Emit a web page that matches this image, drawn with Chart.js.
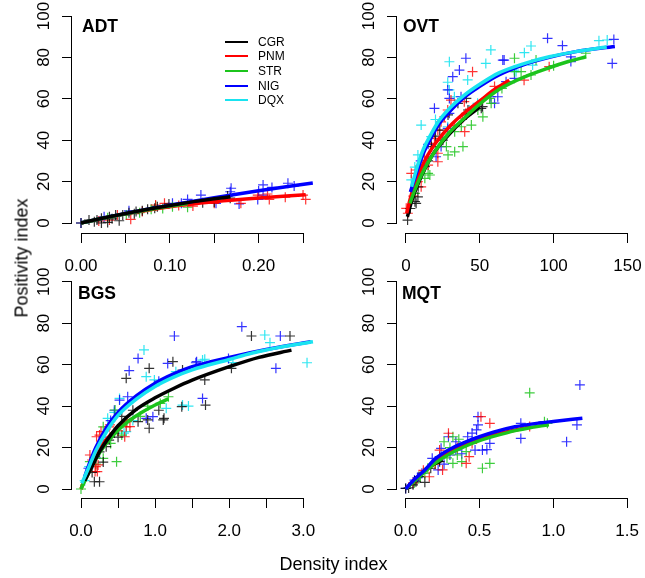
<!DOCTYPE html>
<html>
<head>
<meta charset="utf-8">
<script src="https://cdn.jsdelivr.net/npm/chart.js@4.4.1/dist/chart.umd.min.js"></script>
<style>
  body { margin: 0; background: #fff; width: 645px; height: 578px; position: relative; overflow: hidden;
         font-family: "Liberation Sans", Arial, Helvetica, sans-serif; color: #000; }
  canvas { position: absolute; left: 0; top: 0; pointer-events: none; }
  .txt { position: absolute; white-space: nowrap; line-height: 1; }
  .ttl { font-weight: bold; font-size: 17.5px; }
  .leg { font-size: 12px; }
  .legline { position: absolute; height: 2px; }
</style>
</head>
<body>
<canvas id="adt" width="645" height="578"></canvas>
<canvas id="ovt" width="645" height="578"></canvas>
<canvas id="bgs" width="645" height="578"></canvas>
<canvas id="mqt" width="645" height="578"></canvas>

<script>
// species / series names
const species = ["CGR", "PNM", "STR", "NIG", "DQX"];
const lineColors = ["#000000", "#ff0000", "#1cc41c", "#0000ff", "#19e3f0"];
const pointColors = ["rgba(0,0,0,0.8)", "rgba(255,0,0,0.8)", "rgba(28,196,28,0.85)", "rgba(0,0,255,0.8)", "rgba(25,227,240,0.9)"];

// tick values + labels
const yTicks = [0, 20, 40, 60, 80, 100];
const yLabels = ["0", "20", "40", "60", "80", "100"];
const adtXTicks = [0, 0.05, 0.10, 0.15, 0.20, 0.25];
const adtXLabels = ["0.00", "", "0.10", "", "0.20", ""];
const ovtXTicks = [0, 50, 100, 150];
const ovtXLabels = ["0", "50", "100", "150"];
const bgsXTicks = [0, 0.5, 1.0, 1.5, 2.0, 2.5, 3.0];
const bgsXLabels = ["0.0", "", "1.0", "", "2.0", "", "3.0"];
const mqtXTicks = [0, 0.5, 1.0, 1.5];
const mqtXLabels = ["0.0", "0.5", "1.0", "1.5"];

// ---- ADT ----
const adtCGR = [[0,0],[0.009,1.4],[0.015,0.6],[0.018,1.5],[0.023,2.3],[0.023,0],[0.030,0.3],[0.032,3],[0.035,2],
  [0.039,3.9],[0.043,1.1],[0.047,3.9],[0.054,5],[0.060,4.5],[0.062,5.5],[0.069,5.9],[0.075,6.6],[0.083,7.1],
  [0.086,7.9],[0.099,9.2],[0.137,9.8],[0.150,10],[0.165,13],[0.168,12]];
const adtPNM = [[0.25,13.5],[0.253,11.4],[0.21,14],[0.199,13.5],[0.212,11.4],[0.18,9.5],[0.15,9.5],[0.126,8.2],
  [0.094,9.5],[0.056,1.8],[0.032,1.4],[0.041,3.9],[0.084,8.7],[0.069,5.5],[0.02,1],[0.11,8.5],[0.23,12.5]];
const adtSTR = [[0.084,8.2],[0.12,7.6],[0.079,6.6],[0.103,7.9],[0.066,5],[0.051,3.9],[0.03,2.5],[0.092,7]];
const adtNIG = [[0.169,16.8],[0.168,15.1],[0.135,13.5],[0.12,11.4],[0.113,9.5],[0.103,9.5],[0.054,5.9],[0.205,18.4],
  [0.215,17.2],[0.233,19.2],[0.24,17.9],[0.199,11.4],[0.205,13.5],[0.178,9.2],[0.152,9.5],[0.026,3],[0,0],[0.2,15.5]];
const adtDQX = [];
const adtCGRfit = [[0,0],[0.025,2.4],[0.05,4.6],[0.075,6.6],[0.10,8.5],[0.125,10.2],[0.15,11.7],[0.168,12.7]];
const adtPNMfit = [[0,0],[0.05,4.4],[0.10,7.9],[0.15,10.3],[0.20,12.1],[0.253,13.6]];
const adtSTRfit = [[0,0],[0.04,3.6],[0.08,6.8],[0.12,9.4]];
const adtNIGfit = [[0,0],[0.05,4.6],[0.10,8.6],[0.15,12.2],[0.20,15.6],[0.261,19.3]];
const adtDQXfit = [];

// ---- OVT ----
const ovtCGR = [[1.1,1.4],[6.1,10.3],[8.3,17.5],[12.8,27.2],[17.3,36.9],[22.9,44.9],[28.5,52.2],[35.2,57.8],[40.9,60.2],
  [42,54.6],[40.9,52.2],[51,55.4],[51.9,56.2],[6.9,9.5],[8.1,12.6],[3,7],[15,30],[25,40],[20,42]];
const ovtPNM = [[45.1,73.1],[39.5,58.6],[38.4,50.6],[40.6,53],[28.3,54.6],[26.1,51.4],[23.8,48.9],[21.6,44.9],[19.3,40.9],
  [21.6,33.7],[21.6,29.6],[12.6,32],[10.3,17.5],[6.9,25.6],[3.6,24],[1.3,4.7],[0.2,7.1],[30.5,59.4],[17.1,38.5],
  [39.8,44.1],[97,75.5],[80,69],[60,66],[15,28],[8,20],[5,13],[33,47]];
const ovtSTR = [[6.1,14.3],[16.2,23.2],[28.5,32.9],[33,34.4],[38.6,36.9],[44.3,47.3],[52.1,51.3],[57.7,57.8],[56.6,60.2],
  [48.7,54.6],[37.5,46.5],[33,44.1],[24.1,40.1],[27.4,36.9],[73.5,79.6],[73.5,73.1],[84.7,71.5],[121.8,82],[88.1,78.7],
  [12.8,21.6],[15,24],[78,73.1],[65,65],[100,76]];
const ovtNIG = [[40.6,79.6],[36.2,73.9],[31.7,70.7],[28.3,64.3],[29.4,60.2],[19.3,55.4],[29.4,53],[37.3,61],[57.5,61],
  [66.5,78.7],[23.8,36.9],[28.3,45.7],[20.4,32],[95.9,89.2],[106,85.7],[140.8,88.7],[139.7,77.1],[111.7,78],[111.7,80.3],
  [67.8,68.3],[73.5,69.9],[62.2,61],[60,57.9],[65.6,78.7],[15,38],[10,30]];
const ovtDQX = [[57.5,83.6],[29.4,77.9],[54.1,77.1],[41.8,69.1],[28.3,68],[29.4,64.3],[10.3,47.3],[28.3,46.5],[42.9,54.6],
  [48.5,57.8],[8.1,32.9],[3.6,20.8],[17.1,41.7],[32.8,61],[84.7,85.5],[80.2,82.3],[130.7,88.1],[74.6,73.1],[85.8,76.3],
  [136.3,88.4],[73.4,73.9],[20,50],[6,27]];
const ovtCGRfit = [[1,3],[4,11],[8,18.5],[12,25],[16,30.5],[20,35],[30,43.5],[40,50.5],[50,56]];
const ovtPNMfit = [[0.5,4.7],[3,12],[6,19],[10,26],[15,33],[20,38.5],[30,47],[40,53.5],[50,59],[60,64.5],[70,69]];
const ovtSTRfit = [[2.7,9.5],[6,16],[12.8,26.5],[20,35],[28.5,43],[40,51],[50,57.5],[63,64.5],[80,70.5],[97,75],[110,78],[122,80.3]];
const ovtNIGfit = [[3,15],[8,26],[12,34],[17.3,41.5],[22,47.5],[28.5,53],[40,61],[50,66],[63,71.5],[80,76.5],[97,80],[115,82.8],[141.5,85.3]];
const ovtDQXfit = [[3.8,17.5],[8,28],[12,36],[17.3,43.3],[22,49],[28.5,54.6],[40,62],[50,67],[63,72.5],[80,77],[97,80.3],[115,82.8],[136,85]];

// ---- BGS ----
const bgsCGR = [[0.92,58.2],[0.61,53.4],[1.24,61.4],[1.37,57.4],[1.12,34.1],[0.92,29.3],[0.90,33.3],[0.77,32.5],[0.25,3.5],
  [0.18,3.5],[0.34,20.4],[0.38,23.6],[0.25,17.9],[2.30,73.8],[2.82,73.8],[2.03,58.2],[1.67,52.6],[1.68,40.5],[0.5,25],
  [0.55,35],[0.7,38],[1.05,38],[0.3,13],[0.45,27],[0.15,8],[1.36,39.7],[1.11,33.3]];
const bgsPNM = [[0.22,8.4],[0.2,10.8],[0.25,26],[0.27,27.7],[0.38,30],[0.61,30],[0.21,25.2],[0.19,8.4],[0.23,11.6],
  [0.39,30.9],[0.66,30.1],[0.59,25.2],[0.12,16.4],[0.15,14],[0.3,24],[0.5,28]];
const bgsSTR = [[0,0],[0.48,13.2],[0.30,30],[0.46,38.1],[1.18,44.5],[1.07,41.3],[0.12,13.2],[0.62,32.5],[0.3,14.8],
  [0.2,12],[0.4,22],[0.55,26],[0.8,35],[0.9,40],[0.25,20]];
const bgsNIG = [[1.26,73.8],[0.77,63],[0.65,57.1],[0.63,44.5],[0.52,42.9],[1.17,60.6],[1.55,60.9],[0.88,34.1],[0.97,34.9],
  [1.64,43.7],[2.17,78.3],[2.69,73.8],[2.63,58.2],[1.56,61.4],[1.99,63],[0.3,25],[0.2,15],[0.1,10],[0.4,33],[0.45,38],[1.05,52]];
const bgsDQX = [[0.85,67.1],[0.88,54.2],[0.99,52.6],[1.28,56.6],[1.15,38.9],[1.37,40.5],[0.52,43.7],[0.36,34.1],[0.61,27.7],
  [0.58,27],[0.11,10.8],[1.64,62.2],[2.48,74.3],[2.55,70.6],[3.05,60.9],[1.67,62.6],[1.45,40],[0.25,20],[0.45,37],
  [0.7,33],[0.05,4],[2.05,61]];
const bgsCGRfit = [[0.05,4],[0.15,11],[0.25,18],[0.4,26],[0.5,30.5],[0.75,38.5],[1.0,44],[1.25,48.5],[1.5,52.5],[2.0,59],[2.4,63.5],[2.84,67]];
const bgsPNMfit = [[0,0],[0.1,9],[0.2,16.5],[0.3,22],[0.45,28],[0.6,32],[0.7,34]];
const bgsSTRfit = [[0,0],[0.1,7.5],[0.2,14.5],[0.3,20],[0.45,26.5],[0.6,31.5],[0.8,36.5],[1.0,40.5],[1.18,43.5]];
const bgsNIGfit = [[0.05,6],[0.1,11],[0.2,20],[0.35,30],[0.5,37],[0.75,45],[1.0,51],[1.25,55.5],[1.5,59],[2.0,63.5],[2.5,67.3],[3.1,71]];
const bgsDQXfit = [[0.01,2.7],[0.1,10],[0.2,18.5],[0.35,28],[0.5,35.5],[0.75,43.5],[1.0,49.5],[1.25,54],[1.5,57.5],[2.0,62.5],[2.3,65.5],[2.7,68.5],[3.13,71]];

// ---- MQT ----
const mqtCGR = [[0.13,3.2],[0,0.3],[0.07,3.5],[0.02,0.5],[0.05,2],[0.09,6],[0.17,10],[0.23,13.2]];
const mqtPNM = [[0.57,31.7],[0.51,34.9],[0.84,30.1],[0.29,26.9],[0.23,18.8],[0.41,12.4],[0.43,15.6],[0.25,9.2],[0.16,5.9],
  [0.2,12],[0.12,9],[0.05,3],[0.35,20],[0.45,22]];
const mqtSTR = [[0.84,46.4],[0.96,31.7],[0.94,32.5],[0.57,12.4],[0.52,10],[0.32,25.2],[0.26,22.8],[0.35,16.4],[0.32,12.4],
  [0.38,13.2],[0.2,12.4],[0.13,7.6],[0.1,5.9],[0.41,18],[0.3,20],[0.36,24],[0.28,15],[0.15,10],[0.06,3]];
const mqtNIG = [[1.18,50.2],[1.16,30.9],[1.09,22.8],[0.78,31.7],[0.78,24.4],[0.49,34.9],[0.49,30.9],[0.48,28.5],[0.57,22],
  [0.52,18.8],[0.47,18.8],[0.42,25.2],[0.34,22.8],[0.29,25.2],[0.34,18.8],[0.24,19.6],[0.23,15.6],[0.18,14.8],[0.22,9.2],
  [0.11,7.6],[0.06,4.3],[0,0.3],[0.30,16.4],[0.55,19],[0.45,27],[0.38,17],[0.08,5.5],[0.26,12]];
const mqtDQX = [];
const mqtCGRfit = [[0,0],[0.05,3.5],[0.1,7],[0.17,11],[0.25,14]];
const mqtPNMfit = [[0,0],[0.1,7],[0.2,13.5],[0.3,18],[0.4,21.5],[0.5,24],[0.65,27],[0.84,29.8]];
const mqtSTRfit = [[0,0],[0.1,6.5],[0.2,12.5],[0.3,17],[0.4,20.5],[0.5,23.3],[0.6,25.5],[0.75,28.3],[0.9,30.3],[0.97,31]];
const mqtNIGfit = [[0,0],[0.05,4],[0.13,9.2],[0.2,14.5],[0.29,18.8],[0.4,22.5],[0.5,25.2],[0.6,27.5],[0.74,30],[0.9,31.8],[1.0,32.6],[1.197,34.1]];
const mqtDQXfit = [];

const FONT = '"Liberation Sans", Arial, Helvetica, sans-serif';

// R-style axes: line only between first and last tick, labels drawn from the scale ticks
const rAxes = {
  id: 'rAxes',
  afterDraw(chart, args, opts) {
    const { ctx, chartArea: a, scales: { x, y } } = chart;
    const xt = x.ticks, yt = y.ticks;
    ctx.save();
    ctx.strokeStyle = '#000';
    ctx.lineWidth = 1;
    ctx.beginPath();
    ctx.moveTo(Math.round(x.getPixelForValue(xt[0].value) - 0.5), a.bottom + 0.5);
    ctx.lineTo(Math.round(x.getPixelForValue(xt[xt.length - 1].value) - 0.5) + 1, a.bottom + 0.5);
    ctx.moveTo(a.left - 0.5, Math.round(y.getPixelForValue(yt[0].value) - 0.5) + 1);
    ctx.lineTo(a.left - 0.5, Math.round(y.getPixelForValue(yt[yt.length - 1].value) - 0.5));
    ctx.stroke();

    ctx.fillStyle = '#000';
    ctx.font = '17px ' + FONT;
    ctx.textAlign = 'center';
    ctx.textBaseline = 'alphabetic';
    xt.forEach((t, i) => {
      const s = opts.xLabels[i];
      if (s) ctx.fillText(s, x.getPixelForValue(t.value), a.bottom + 38);
    });
    yt.forEach((t, i) => {
      ctx.save();
      ctx.translate(a.left - 23, y.getPixelForValue(t.value));
      ctx.rotate(-Math.PI / 2);
      ctx.fillText(opts.yLabels[i], 0, 0);
      ctx.restore();
    });
    ctx.restore();
  }
};

function toXY(arr) { return arr.map(p => ({ x: p[0], y: p[1] })); }

function makePanel(id, area, xr, yr, xTicks, xLabels, pts, fits, lineOrder) {
  const datasets = [];
  pts.forEach((d, i) => {
    if (!d.length) return;
    datasets.push({
      label: species[i] + ' obs', data: toXY(d),
      pointStyle: 'cross', pointRadius: 5, pointHoverRadius: 5,
      borderColor: pointColors[i], backgroundColor: pointColors[i], borderWidth: 1.2,
      showLine: false, order: 20 + i
    });
  });
  fits.forEach((d, i) => {
    if (!d.length) return;
    datasets.push({
      label: species[i], data: toXY(d),
      showLine: true, pointRadius: 0, borderWidth: 3.5, borderColor: lineColors[i],
      cubicInterpolationMode: 'monotone', borderCapStyle: 'butt',
      order: lineOrder.indexOf(species[i])
    });
  });
  const SW = 40;
  new Chart(document.getElementById(id), {
    type: 'scatter',
    data: { datasets },
    plugins: [rAxes],
    options: {
      responsive: false,
      animation: false,
      events: [],
      layout: { padding: { left: area.left - SW, right: 645 - area.right, top: area.top, bottom: 578 - area.bottom - SW } },
      plugins: {
        legend: { display: false },
        tooltip: { enabled: false },
        rAxes: { xLabels, yLabels }
      },
      scales: {
        x: {
          type: 'linear', min: xr[0], max: xr[1],
          afterBuildTicks: s => { s.ticks = xTicks.map(v => ({ value: v })); },
          afterFit: s => { s.height = SW; },
          ticks: { display: false },
          grid: { display: true, drawOnChartArea: false, drawTicks: true, tickLength: 10, color: '#000', lineWidth: 1 },
          border: { display: false }
        },
        y: {
          type: 'linear', min: yr[0], max: yr[1],
          afterBuildTicks: s => { s.ticks = yTicks.map(v => ({ value: v })); },
          afterFit: s => { s.width = SW; },
          ticks: { display: false },
          grid: { display: true, drawOnChartArea: false, drawTicks: true, tickLength: 10, color: '#000', lineWidth: 1 },
          border: { display: false }
        }
      }
    }
  });
}

makePanel('adt', { left: 72, right: 320, top: 8, bottom: 233 }, [-0.01014, 0.2691], [-4.83, 103.87],
  adtXTicks, adtXLabels, [adtCGR, adtPNM, adtSTR, adtNIG, adtDQX],
  [adtCGRfit, adtPNMfit, adtSTRfit, adtNIGfit, adtDQXfit], ["CGR", "STR", "NIG", "PNM", "DQX"]);
makePanel('ovt', { left: 397, right: 640, top: 8, bottom: 233 }, [-6.06, 157.7], [-4.83, 103.87],
  ovtXTicks, ovtXLabels, [ovtCGR, ovtPNM, ovtSTR, ovtNIG, ovtDQX],
  [ovtCGRfit, ovtPNMfit, ovtSTRfit, ovtNIGfit, ovtDQXfit], ["DQX", "NIG", "STR", "PNM", "CGR"]);
makePanel('bgs', { left: 72, right: 320, top: 273, bottom: 498 }, [-0.1215, 3.225], [-4.34, 104.2],
  bgsXTicks, bgsXLabels, [bgsCGR, bgsPNM, bgsSTR, bgsNIG, bgsDQX],
  [bgsCGRfit, bgsPNMfit, bgsSTRfit, bgsNIGfit, bgsDQXfit], ["DQX", "NIG", "CGR", "STR", "PNM"]);
makePanel('mqt', { left: 397, right: 640, top: 273, bottom: 498 }, [-0.0586, 1.579], [-4.34, 104.2],
  mqtXTicks, mqtXLabels, [mqtCGR, mqtPNM, mqtSTR, mqtNIG, mqtDQX],
  [mqtCGRfit, mqtPNMfit, mqtSTRfit, mqtNIGfit, mqtDQXfit], ["NIG", "STR", "PNM", "CGR", "DQX"]);

// text overlays: panel titles, legend, outer axis titles
function addText(str, cls, left, baseline, size) {
  const d = document.createElement('div');
  d.className = 'txt ' + cls;
  d.textContent = str;
  d.style.left = left + 'px';
  d.style.top = (baseline - 0.85 * size) + 'px';
  document.body.appendChild(d);
  return d;
}
addText("ADT", "ttl", 82, 33, 17.5);
addText("OVT", "ttl", 403, 33, 17.5);
addText("BGS", "ttl", 78, 300, 17.5);
addText("MQT", "ttl", 402, 300, 17.5);

species.forEach((s, i) => {
  const yc = 41.7 + i * 14.6;
  const ln = document.createElement('div');
  ln.className = 'legline';
  ln.style.left = '225px';
  ln.style.width = '23px';
  ln.style.top = (yc - 1) + 'px';
  ln.style.background = lineColors[i];
  document.body.appendChild(ln);
  addText(s, "leg", 258, yc + 4.3, 12);
});

const xt = addText("Density index", "", 0, 570, 18);
xt.style.fontSize = '18px';
xt.style.left = (333.5 - xt.offsetWidth / 2) + 'px';

const yt = document.createElement('div');
yt.className = 'txt';
yt.textContent = "Positivity index";
yt.style.fontSize = '18px';
document.body.appendChild(yt);
yt.style.left = (21.5 - yt.offsetWidth / 2) + 'px';
yt.style.top = (258 - yt.offsetHeight / 2) + 'px';
yt.style.transform = 'rotate(-90deg)';
</script>
</body>
</html>
